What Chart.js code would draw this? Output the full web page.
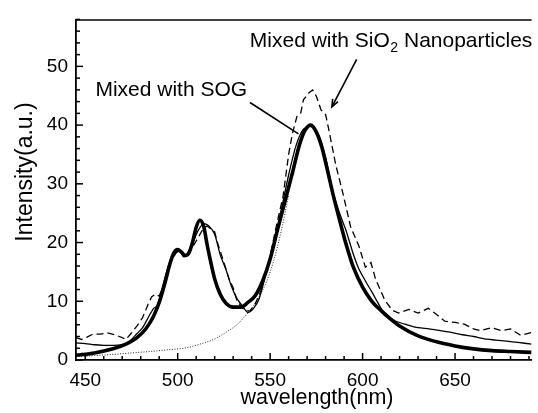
<!DOCTYPE html>
<html>
<head>
<meta charset="utf-8">
<script src="https://cdn.jsdelivr.net/npm/chart.js@4.4.0/dist/chart.umd.min.js"></script>
<style>
html,body{margin:0;padding:0;background:#fff;overflow:hidden;}
canvas{display:block;}
</style>
</head>
<body>
<canvas id="c" width="538" height="413"></canvas>
<script>
// ---- data ----
const sogWl  = [445,455,465,472,478,483,487,490,493,496,498,500,502,504,506,508,510,512,514,516,518,520,523,526,530,534,538,542,546,550,554,558,562,566,569,572,575,578,581,584,588,591,595,600,605,610,615,620,630,640,650,660,670,680,691.4];
const sogInt = [0.8,1.2,1.9,2.7,3.8,5.4,7.5,9.8,13,16.6,18.3,18.8,18.4,17.8,18.2,20,22.6,23.8,22.8,19.5,16.5,13.8,11.2,9.7,9.0,9.0,9.8,11.0,13.5,17.2,22.2,27,31.8,36.8,39.2,40.0,38.8,36.2,32.3,28.2,23.3,19.8,15.8,12.4,10.0,8.4,7.0,5.8,4.1,3.1,2.4,1.9,1.6,1.45,1.3];

const neatWl  = [445,450,455,460,465,470,474,478,481,484,487,489,491,494,497,500,503,505,508,511,514,517,520,523,526,529,532,535,538,541,544,548,552,556,560,564,568,572,576,580,584,588,591,595,598,602,605,608,611,615,618,624,630,636,642,648,654,660,666,672,678,684,691.4];
const neatInt = [2.9,2.8,2.6,2.5,2.5,2.6,3.2,4.5,5.5,7.2,8.8,9.2,11.5,15,17.8,18.6,18.0,18.0,19.8,22.0,23.2,22.8,21.4,17.9,15.5,12.6,10.5,9.2,8.1,8.8,10.4,15,19.5,25.5,31.5,36.5,39.3,39.8,38.5,34.5,28.6,24.6,22.1,18,15.5,13.2,11.6,9.9,8.3,7.2,6.6,6.0,5.5,5.3,5.0,4.7,4.3,4.0,3.6,3.4,3.2,3.0,2.7];

const sio2Wl  = [445,448,451,454,458,462,466,470,472,475,478,481,484,486,488,490,493,496,499,501,503,505,508,511,514,516,518,520,521.5,525,528,530,532,535,539,542,545,549,553,557,560,562,564.5,566.5,568,571,573,575,577.5,580,582,585.5,589.5,593.5,598,601.5,604.5,607,612,616,619.5,625,630,635.5,639,644.5,650,655,660,664,669.5,675,680,685.5,691.4];
const sio2Int = [3.8,3.5,3.9,4.4,4.4,4.6,4.3,3.8,3.5,4.6,5.8,7.2,9.5,10.8,11.2,10.9,13.3,16.5,18.2,18.7,17.6,17.5,19.2,20.8,22.5,22.8,22.3,21.8,20,16.6,13.6,12.3,10.2,8.8,8.3,9.6,11.8,16.2,22.3,27.9,35,38.5,41.5,42,44.3,45.5,46.0,44.9,42.6,41.8,38.8,33.2,28.2,22.7,19.4,15.8,16.6,13.8,10.2,8.5,8.0,8.6,8.0,8.8,8.0,6.6,6.4,6.1,5.3,5.0,5.5,5.0,5.3,4.2,4.7];

const fitWl  = [445,455,465,475,485,495,505,512,520,527,532,536,540,544,548,552,556,560];
const fitInt = [0.55,0.75,0.95,1.2,1.45,1.75,2.1,2.7,3.6,4.9,6.0,7.3,8.8,10.8,13.3,17,22,28];

const xTickLabels = [450,500,550,600,650];
const yTickLabels = [0,10,20,30,40,50];

const labelSog  = 'Mixed with SOG';
const labelSio2 = ['Mixed with SiO', '2', ' Nanoparticles'];
const xTitle = 'wavelength(nm)';
const yTitle = 'Intensity(a.u.)';

// ---- helpers ----
const pts = (xs, ys) => xs.map((v, i) => ({x: v, y: ys[i]}));
const FONT = "'Liberation Sans', Arial, Helvetica, sans-serif";

const framePlugin = {
  id: 'frame',
  afterDraw(chart) {
    const {ctx, chartArea: a, scales: {x, y}} = chart;
    ctx.save();
    ctx.strokeStyle = '#000';
    ctx.lineWidth = 1.5;
    // top frame line
    ctx.beginPath();
    ctx.moveTo(a.left, a.top + 0.5);
    ctx.lineTo(a.right, a.top + 0.5);
    ctx.stroke();
    // inward ticks
    x.ticks.forEach(t => {
      const px = x.getPixelForValue(t.value);
      const major = xTickLabels.includes(t.value);
      ctx.beginPath();
      ctx.moveTo(px, a.bottom);
      ctx.lineTo(px, a.bottom - (major ? 7 : 4));
      ctx.stroke();
    });
    y.ticks.forEach(t => {
      const py = y.getPixelForValue(t.value);
      const major = yTickLabels.includes(t.value);
      ctx.beginPath();
      ctx.moveTo(a.left, py);
      ctx.lineTo(a.left + (major ? 7 : 4), py);
      ctx.stroke();
    });

    // axis titles
    ctx.fillStyle = '#000';
    ctx.textBaseline = 'alphabetic';
    ctx.textAlign = 'center';
    ctx.font = '21.5px ' + FONT;
    ctx.fillText(xTitle, 317, 404);
    ctx.save();
    ctx.translate(32, 172);
    ctx.rotate(-Math.PI / 2);
    ctx.font = '23px ' + FONT;
    ctx.fillText(yTitle, 0, 0);
    ctx.restore();

    // annotations (positioned in data coordinates)
    const P = (wx, wy) => [x.getPixelForValue(wx), y.getPixelForValue(wy)];
    ctx.textAlign = 'left';
    ctx.font = '21px ' + FONT;
    let [tx, ty] = P(455.5, 45.0);
    ctx.fillText(labelSog, tx, ty);

    [tx, ty] = P(539, 53.3);
    ctx.fillText(labelSio2[0], tx, ty);
    let w = ctx.measureText(labelSio2[0]).width;
    ctx.font = '14px ' + FONT;
    ctx.fillText(labelSio2[1], tx + w + 0.5, ty + 5);
    w += ctx.measureText(labelSio2[1]).width + 0.5;
    ctx.font = '21px ' + FONT;
    ctx.fillText(labelSio2[2], tx + w, ty);

    // pointer line for SOG
    ctx.lineWidth = 1.6;
    let [x1, y1] = P(539.1, 43.85);
    let [x2, y2] = P(565.3, 38.5);
    ctx.beginPath(); ctx.moveTo(x1, y1); ctx.lineTo(x2, y2); ctx.stroke();

    // arrow for SiO2
    [x1, y1] = P(596.8, 51.2);
    [x2, y2] = P(583.4, 43.1);
    ctx.beginPath(); ctx.moveTo(x1, y1); ctx.lineTo(x2, y2); ctx.stroke();
    const ang = Math.atan2(y2 - y1, x2 - x1);
    const L = 8, W = 0.38;
    ctx.beginPath();
    ctx.moveTo(x2 - L * Math.cos(ang - W), y2 - L * Math.sin(ang - W));
    ctx.lineTo(x2, y2);
    ctx.lineTo(x2 - L * Math.cos(ang + W), y2 - L * Math.sin(ang + W));
    ctx.stroke();
    ctx.restore();
  }
};

new Chart(document.getElementById('c'), {
  type: 'line',
  data: {
    datasets: [
      { label: 'Mixed with SOG', data: pts(sogWl, sogInt), borderColor: '#000', borderWidth: 3.6,
        pointRadius: 0, cubicInterpolationMode: 'monotone', fill: false, order: 0 },
      { label: 'Neat', data: pts(neatWl, neatInt), borderColor: '#000', borderWidth: 1.3,
        pointRadius: 0, tension: 0.25, fill: false, order: 1 },
      { label: 'Mixed with SiO2 Nanoparticles', data: pts(sio2Wl, sio2Int), borderColor: '#000', borderWidth: 1.3,
        borderDash: [7, 4], pointRadius: 0, tension: 0, fill: false, order: 2 },
      { label: 'Fit', data: pts(fitWl, fitInt), borderColor: '#222', borderWidth: 1,
        borderDash: [1, 1.6], pointRadius: 0, cubicInterpolationMode: 'monotone', fill: false, order: 3 }
    ]
  },
  options: {
    responsive: false,
    animation: false,
    devicePixelRatio: 1,
    layout: { padding: { top: 11, right: 0, left: 0, bottom: 0 } },
    plugins: { legend: { display: false }, tooltip: { enabled: false } },
    scales: {
      x: {
        type: 'linear', min: 445, max: 691.4,
        afterFit(s) { s.height = 53; },
        border: { display: true, color: '#000', width: 1.8 },
        grid: { display: false, drawTicks: false },
        ticks: {
          stepSize: 10, includeBounds: false, autoSkip: false, maxRotation: 0, padding: 9,
          color: '#000', font: { family: FONT, size: 19 },
          callback: v => xTickLabels.includes(v) ? String(v) : ''
        }
      },
      y: {
        type: 'linear', min: 0, max: 58,
        afterFit(s) { s.width = 76; },
        border: { display: true, color: '#000', width: 1.8 },
        grid: { display: false, drawTicks: false },
        ticks: {
          stepSize: 2, autoSkip: false, padding: 8,
          color: '#000', font: { family: FONT, size: 19 },
          callback: v => yTickLabels.includes(v) ? String(v) : ''
        }
      }
    }
  },
  plugins: [framePlugin]
});
</script>
</body>
</html>
